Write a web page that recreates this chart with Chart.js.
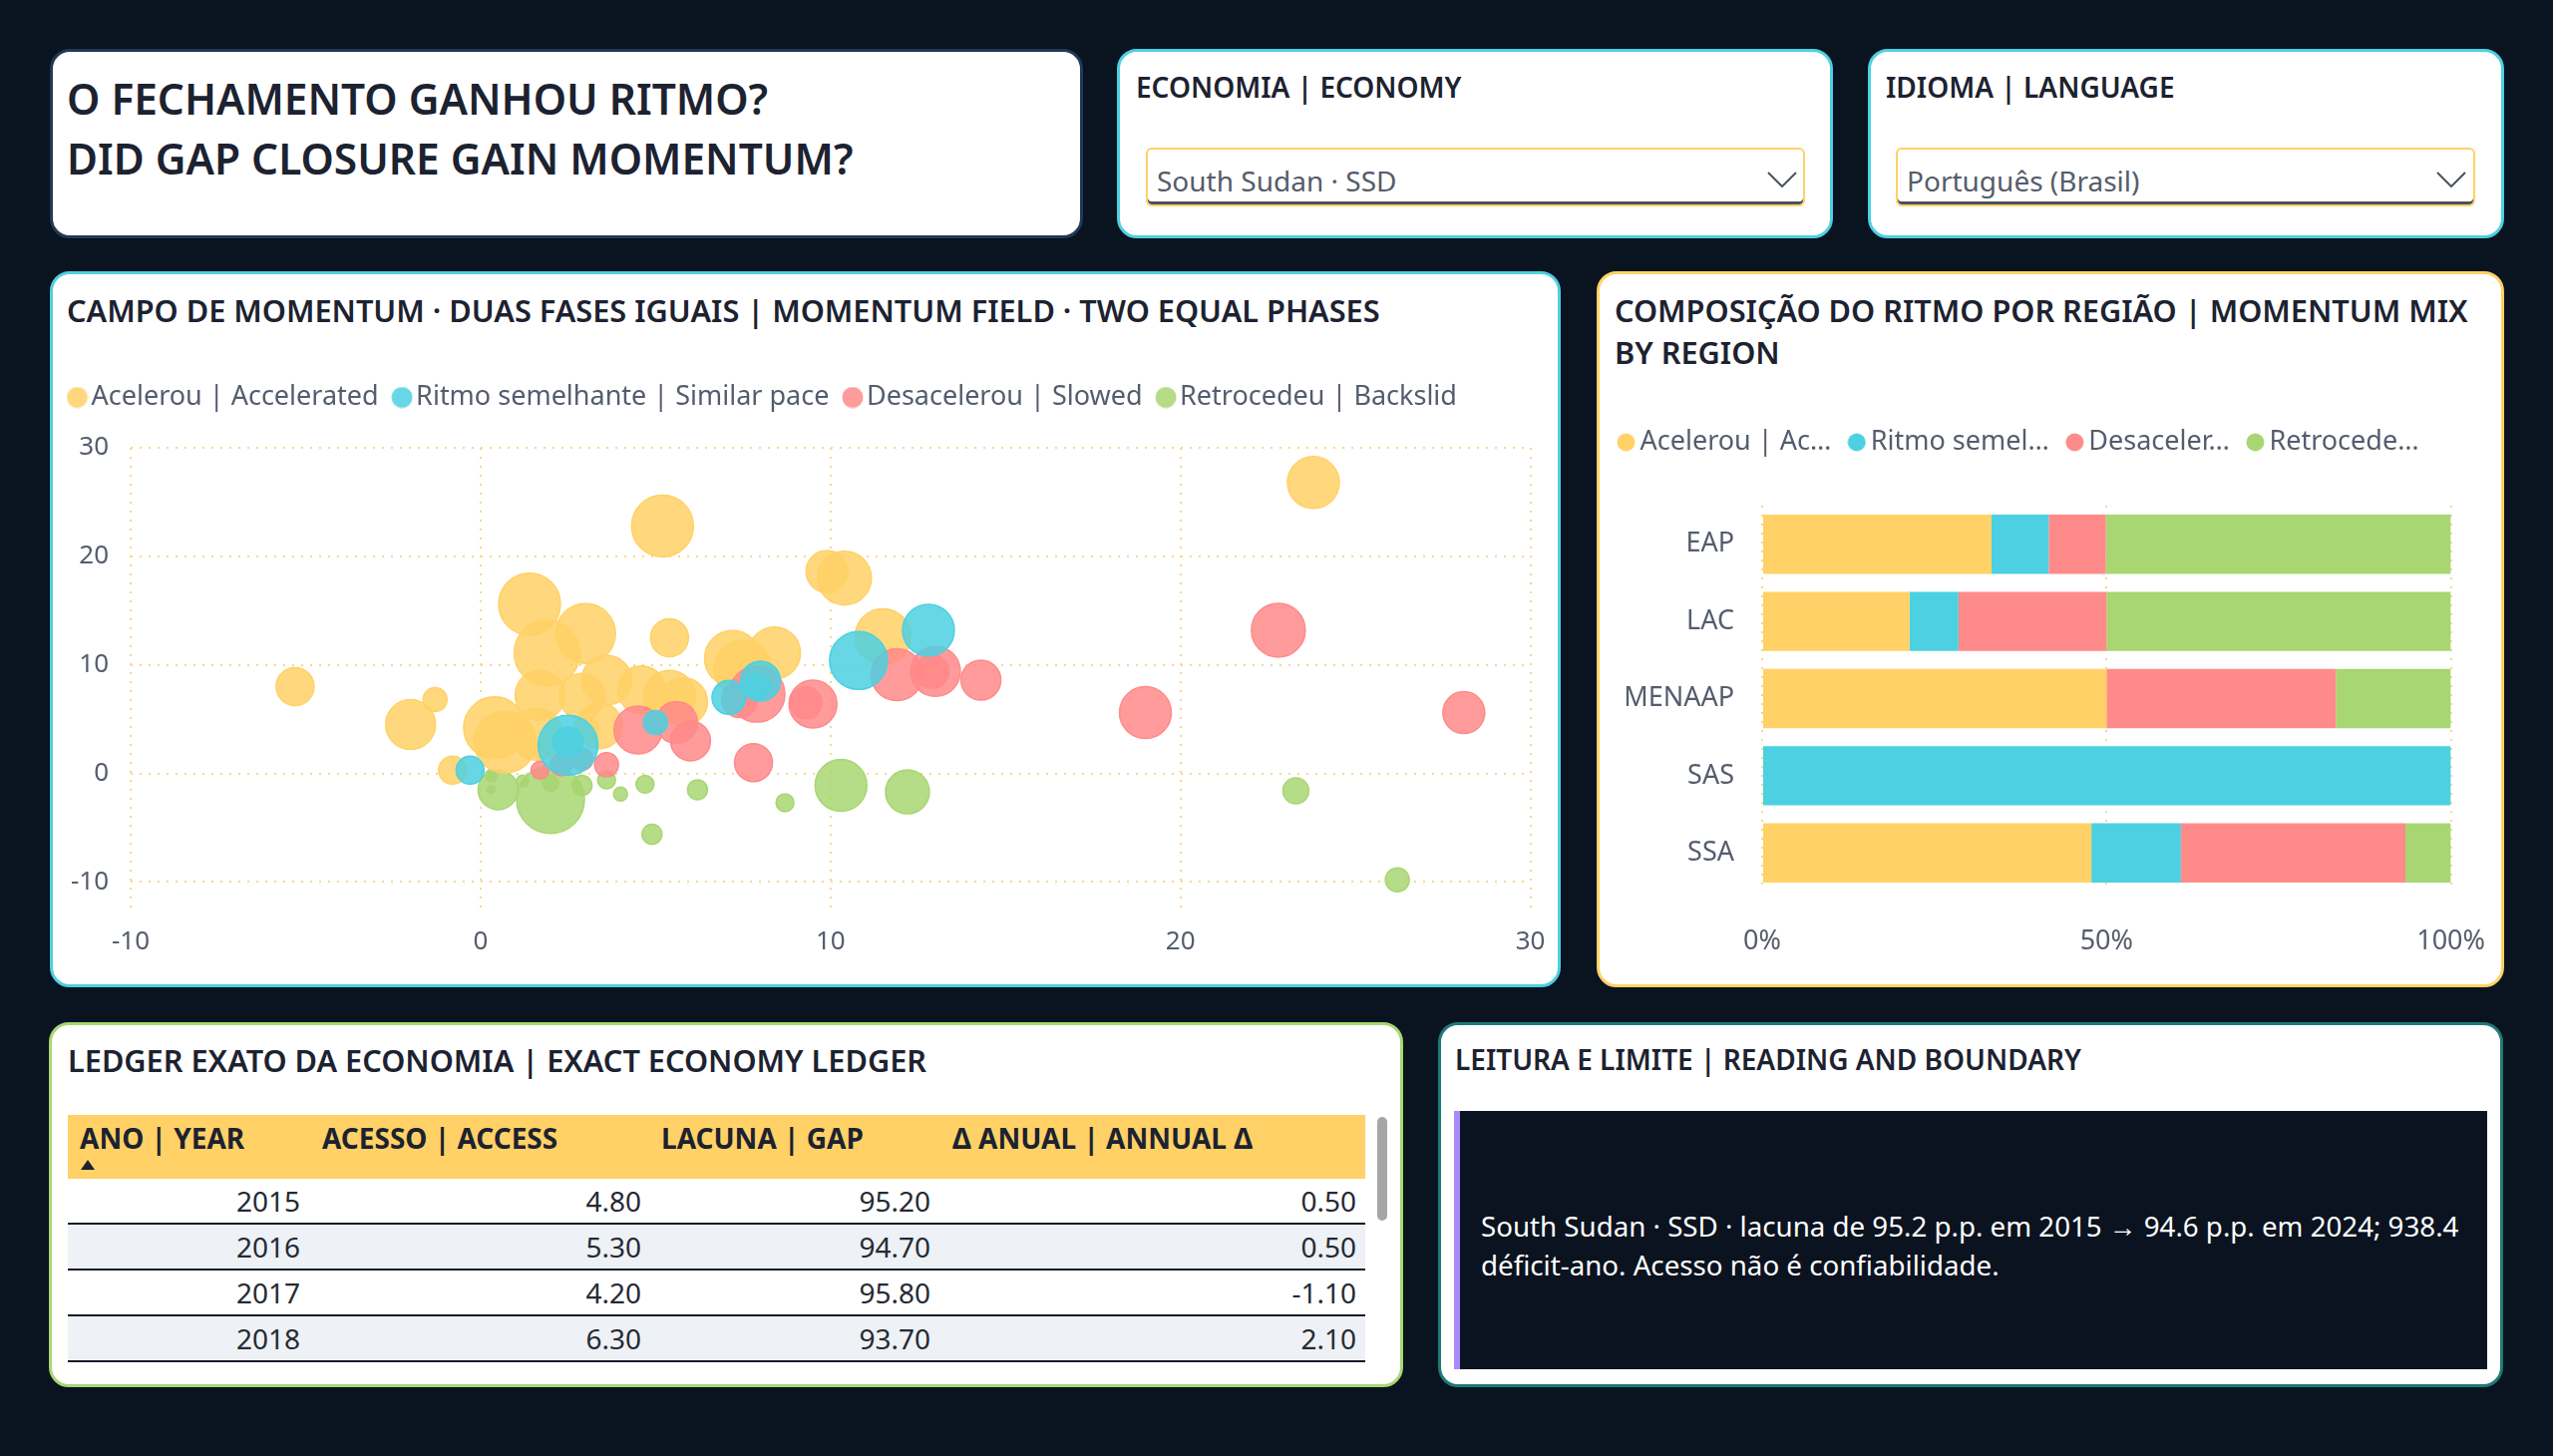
<!DOCTYPE html>
<html lang="pt-BR">
<head>
<meta charset="utf-8">
<title>O fechamento ganhou ritmo?</title>
<script src="https://cdn.jsdelivr.net/npm/chart.js@4.4.1/dist/chart.umd.min.js"></script>
<style>
  html, body { margin: 0; padding: 0; background: #0a1320; }
  body { width: 2560px; height: 1460px; position: relative; overflow: hidden;
         font-family: "Segoe UI", "Noto Sans", sans-serif; color: #1c2230; }
  .card { position: absolute; background: #fff; border: 3px solid #4dd0e1;
          border-radius: 20px; box-sizing: border-box; }
  .t { position: absolute; white-space: nowrap; line-height: 1; }
  .h { font-size: 30.7px; font-weight: 600; color: #1c2230; }
  .drop { position: absolute; box-sizing: border-box; height: 59px; background: #fff;
          border: 2px solid #ffd166; border-radius: 6px; box-shadow: inset 0 -3px 0 #4a5261; }
  .drop span { position: absolute; left: 9px; top: 17px; font-size: 28px; line-height: 1; color: #555c6a; }
  .drop svg { position: absolute; top: 22px; }
  canvas { position: absolute; }
  .thead { position: absolute; left: 68px; top: 1118px; width: 1301px; height: 64px; background: #ffd166; }
  .thead div { position: absolute; top: 9px; font-size: 28px; font-weight: 700; line-height: 1; white-space: nowrap; color: #1c2230; }
  .row { position: absolute; left: 68px; width: 1301px; height: 44px; border-bottom: 2px solid #141b28; }
  .row div { position: absolute; top: 8px; font-size: 28px; line-height: 1; text-align: right; color: #252a33; }
</style>
</head>
<body>

<div class="card" style="left:50px;top:49px;width:1036px;height:190px;border-color:#1f3a56;"></div>
<div class="t" style="left:67px;top:69px;font-size:42.4px;line-height:60px;font-weight:600;color:#1c2230;">O FECHAMENTO GANHOU RITMO?<br>DID GAP CLOSURE GAIN MOMENTUM?</div>

<div class="card" style="left:1120px;top:49px;width:718px;height:190px;"></div>
<div class="t" style="left:1139px;top:73px;font-size:28px;font-weight:600;">ECONOMIA | ECONOMY</div>
<div class="drop" style="left:1149px;top:148px;width:661px;">
  <span>South Sudan · SSD</span>
  <svg style="left:621px" width="30" height="16" viewBox="0 0 30 16"><polyline points="1,1 15,15 29,1" fill="none" stroke="#4a5261" stroke-width="2"/></svg>
</div>

<div class="card" style="left:1873px;top:49px;width:638px;height:190px;"></div>
<div class="t" style="left:1891px;top:73px;font-size:28px;font-weight:600;">IDIOMA | LANGUAGE</div>
<div class="drop" style="left:1901px;top:148px;width:581px;">
  <span>Português (Brasil)</span>
  <svg style="left:540px" width="30" height="16" viewBox="0 0 30 16"><polyline points="1,1 15,15 29,1" fill="none" stroke="#4a5261" stroke-width="2"/></svg>
</div>

<div class="card" style="left:50px;top:272px;width:1515px;height:718px;"></div>
<div class="t h" style="left:67px;top:296px;">CAMPO DE MOMENTUM · DUAS FASES IGUAIS | MOMENTUM FIELD · TWO EQUAL PHASES</div>
<canvas id="momentum" width="1516" height="621" style="left:54px;top:362px;"></canvas>

<div class="card" style="left:1601px;top:272px;width:910px;height:718px;border-color:#ffd166;"></div>
<div class="t h" style="left:1619px;top:290px;line-height:42px;">COMPOSIÇÃO DO RITMO POR REGIÃO | MOMENTUM MIX<br>BY REGION</div>
<canvas id="mix" width="921" height="580" style="left:1605px;top:405px;"></canvas>

<div class="card" style="left:49px;top:1025px;width:1358px;height:366px;border-color:#a8d672;"></div>
<div class="t h" style="left:68px;top:1048px;">LEDGER EXATO DA ECONOMIA | EXACT ECONOMY LEDGER</div>
<div class="thead">
  <div style="left:12px">ANO | YEAR</div>
  <div style="left:255px">ACESSO | ACCESS</div>
  <div style="left:595px">LACUNA | GAP</div>
  <div style="left:887px">Δ ANUAL | ANNUAL Δ</div>
  <span style="position:absolute;left:13px;top:45px;width:0;height:0;border-left:7px solid transparent;border-right:7px solid transparent;border-bottom:10px solid #1c2230;"></span>
</div>
<div id="ledger"></div>
<div style="position:absolute;left:1381px;top:1120px;width:10px;height:104px;background:#a6a6a6;border-radius:5px;"></div>

<div class="card" style="left:1442px;top:1025px;width:1068px;height:366px;border-color:#1d7a76;"></div>
<div class="t" style="left:1459px;top:1048px;font-size:28px;font-weight:600;">LEITURA E LIMITE | READING AND BOUNDARY</div>
<div style="position:absolute;left:1458px;top:1114px;width:1036px;height:259px;box-sizing:border-box;background:#0b1320;border-left:6px solid #a78bfa;"></div>
<div class="t" style="left:1485px;top:1210px;font-size:27.7px;line-height:39px;color:#ffffff;">South Sudan · SSD · lacuna de 95.2 p.p. em 2015 → 94.6 p.p. em 2024; 938.4<br>déficit-ano. Acesso não é confiabilidade.</div>

<script>
// séries do campo de momentum: [x, y, tamanho da bolha]
const momentumSeries = ["Acelerou | Accelerated", "Ritmo semelhante | Similar pace", "Desacelerou | Slowed", "Retrocedeu | Backslid"];
const accelerated = [
  [-5.3, 8.0, 19], [-1.3, 6.8, 12], [-2.0, 4.5, 25], [-0.8, 0.3, 14],
  [1.4, 15.6, 31], [1.9, 11.1, 33], [3.0, 12.9, 30], [5.2, 22.8, 31],
  [5.4, 12.5, 19], [1.7, 7.2, 25], [2.9, 7.1, 23], [3.6, 8.6, 25],
  [0.4, 4.2, 31], [0.7, 2.9, 31], [1.6, 3.6, 26], [3.4, 4.4, 23],
  [3.0, 4.0, 13], [1.7, 2.2, 9], [4.6, 7.7, 24], [5.4, 7.1, 26],
  [5.8, 6.6, 24], [7.2, 10.6, 28], [7.5, 9.6, 29], [8.4, 11.1, 26],
  [9.9, 18.6, 21], [10.4, 18.0, 27], [11.5, 12.6, 28], [23.8, 26.8, 26]
];
const similarPace = [
  [-0.3, 0.3, 14], [2.5, 2.6, 30], [2.5, 2.9, 15], [5.0, 4.7, 12],
  [7.1, 7.0, 17], [8.0, 8.5, 20], [7.9, 8.0, 13], [10.8, 10.4, 29], [12.8, 13.2, 26]
];
const slowed = [
  [1.7, 0.3, 9], [2.3, 0.8, 11], [2.9, 1.3, 11], [3.6, 0.8, 12],
  [4.5, 4.0, 24], [5.6, 4.7, 21], [6.0, 3.0, 20], [7.8, 1.0, 19],
  [7.4, 6.8, 18], [7.9, 7.3, 28], [9.5, 6.4, 24], [9.3, 6.5, 16],
  [11.9, 9.1, 26], [13.0, 9.4, 25], [12.9, 9.4, 17], [14.3, 8.6, 20],
  [19.0, 5.6, 26], [22.8, 13.2, 27], [28.1, 5.6, 21]
];
const backslid = [
  [0.5, -1.5, 20], [0.3, -0.2, 6], [0.3, -1.5, 4], [1.2, -0.7, 6],
  [2.0, -2.4, 34], [2.0, -0.9, 8], [2.9, -1.1, 10], [3.6, -0.6, 9],
  [4.0, -1.9, 7], [4.7, -1.0, 9], [4.9, -5.6, 10], [6.2, -1.5, 10],
  [8.7, -2.7, 9], [10.3, -1.1, 26], [12.2, -1.7, 22], [23.3, -1.6, 13], [26.2, -9.8, 12]
];
const xTicks = [-10, 0, 10, 20, 30];
const yTicks = [-10, 0, 10, 20, 30];

// composição por região (%)
const regions = ["EAP", "LAC", "MENAAP", "SAS", "SSA"];
const mixAccelerated = [33.3, 21.4, 50.0, 0, 47.8];
const mixSimilar = [8.3, 7.1, 0, 100, 13.0];
const mixSlowed = [8.3, 21.5, 33.3, 0, 32.6];
const mixBackslid = [50.1, 50.0, 16.7, 0, 6.6];
const mixLegend = ["Acelerou | Ac…", "Ritmo semel…", "Desaceler…", "Retrocede…"];
const pctTicks = [0, 50, 100];

// ledger
const ledgerYears = [2015, 2016, 2017, 2018];
const ledgerAccess = [4.8, 5.3, 4.2, 6.3];
const ledgerGap = [95.2, 94.7, 95.8, 93.7];
const ledgerDelta = [0.5, 0.5, -1.1, 2.1];

const seriesColors = ["#ffd166", "#4dd0e1", "#ff8a8a", "#a8d672"];
const drawOrder = [2, 0, 1, 3]; // ciano por cima, verde por baixo
const fontFamily = '"Segoe UI", "Noto Sans", sans-serif';
const tickColor = "#545d6e";
const gridColor = "#f8d889";

// tabela
let html = "";
for (let i = 0; i < ledgerYears.length; i++) {
    let bg = i % 2 === 1 ? "#eef1f5" : "#ffffff";
    html += "<div class='row' style='top:" + (1182 + i * 46) + "px;background:" + bg + "'>";
    html += "<div style='right:" + (1301 - 233) + "px'>" + ledgerYears[i] + "</div>";
    html += "<div style='right:" + (1301 - 575) + "px'>" + ledgerAccess[i].toFixed(2) + "</div>";
    html += "<div style='right:" + (1301 - 865) + "px'>" + ledgerGap[i].toFixed(2) + "</div>";
    html += "<div style='right:" + (1301 - 1292) + "px'>" + ledgerDelta[i].toFixed(2) + "</div>";
    html += "</div>";
}
document.getElementById("ledger").innerHTML = html;

// altura fixa da legenda
function fixedLegend(height) {
    return {
        id: "fixedLegend",
        beforeInit(chart) {
            const fit = chart.legend.fit;
            chart.legend.fit = function () {
                fit.call(this);
                this.height = height;
            };
        }
    };
}

// bolinha da legenda (texto colado no círculo)
function dot(color, d) {
    const c = document.createElement("canvas");
    c.width = d;
    c.height = d;
    const g = c.getContext("2d");
    g.fillStyle = color;
    g.beginPath();
    g.arc(d / 2, d / 2, d / 2 - 0.5, 0, Math.PI * 2);
    g.fill();
    return c;
}

function dotLabels(size, alpha, texts) {
    return chart => {
        const items = Chart.defaults.plugins.legend.labels.generateLabels(chart);
        items.forEach(it => {
            it.pointStyle = dot(seriesColors[it.datasetIndex] + alpha, size);
            if (texts) it.text = texts[it.datasetIndex];
        });
        return items;
    };
}

const legendSort = (a, b) => a.datasetIndex - b.datasetIndex;

// campo de momentum
new Chart(document.getElementById("momentum"), {
    type: "bubble",
    data: {
        datasets: [accelerated, similarPace, slowed, backslid].map((pts, i) => ({
            label: momentumSeries[i],
            data: pts.map(p => ({ x: p[0], y: p[1], r: p[2] })),
            backgroundColor: seriesColors[i] + "d9",
            borderColor: seriesColors[i],
            borderWidth: 1.5,
            order: drawOrder[i]
        }))
    },
    options: {
        responsive: false,
        animation: false,
        layout: { padding: { right: 2 } },
        plugins: {
            tooltip: { enabled: false },
            legend: {
                align: "start",
                labels: {
                    usePointStyle: true, pointStyleWidth: 1, boxHeight: 22,
                    padding: 23, color: tickColor, font: { size: 27, family: fontFamily },
                    generateLabels: dotLabels(22, "d9"),
                    sort: legendSort
                }
            }
        },
        scales: {
            x: {
                type: "linear", min: -10, max: 30,
                afterBuildTicks: s => { s.ticks = xTicks.map(v => ({ value: v })); },
                afterFit: s => { s.height = 67; },
                grid: { color: gridColor, lineWidth: 2, drawTicks: false },
                border: { display: false, dash: [2, 7] },
                ticks: { color: tickColor, padding: 13, font: { size: 26, family: fontFamily } }
            },
            y: {
                type: "linear", min: -12.9, max: 30,
                afterBuildTicks: s => { s.ticks = yTicks.map(v => ({ value: v })); },
                afterFit: s => { s.width = 77; },
                grid: { color: gridColor, lineWidth: 2, drawTicks: false },
                border: { display: false, dash: [2, 7] },
                ticks: { color: tickColor, padding: 22, font: { size: 26, family: fontFamily } }
            }
        }
    },
    plugins: [fixedLegend(87)]
});

// composição por região
new Chart(document.getElementById("mix"), {
    type: "bar",
    data: {
        labels: regions,
        datasets: [mixAccelerated, mixSimilar, mixSlowed, mixBackslid].map((vals, i) => ({
            label: momentumSeries[i],
            data: vals,
            backgroundColor: seriesColors[i],
            borderWidth: 0,
            barPercentage: 0.767,
            categoryPercentage: 1
        }))
    },
    options: {
        indexAxis: "y",
        responsive: false,
        animation: false,
        plugins: {
            tooltip: { enabled: false },
            legend: {
                align: "start",
                labels: {
                    usePointStyle: true, pointStyleWidth: 1, boxHeight: 19,
                    padding: 25, color: tickColor, font: { size: 27, family: fontFamily },
                    generateLabels: dotLabels(19, "", mixLegend)
                }
            }
        },
        scales: {
            x: {
                stacked: true, min: 0, max: 100,
                afterBuildTicks: s => { s.ticks = pctTicks.map(v => ({ value: v })); },
                afterFit: s => { s.height = 91; },
                grid: { color: gridColor, lineWidth: 2, drawTicks: false },
                border: { display: false, dash: [2, 7] },
                ticks: { color: tickColor, padding: 34, font: { size: 27, family: fontFamily }, callback: v => v + "%" }
            },
            y: {
                stacked: true,
                afterFit: s => { s.width = 162; },
                grid: { display: false },
                border: { display: false },
                ticks: { color: tickColor, padding: 20, font: { size: 27, family: fontFamily } }
            }
        }
    },
    plugins: [fixedLegend(102)]
});
</script>
</body>
</html>
